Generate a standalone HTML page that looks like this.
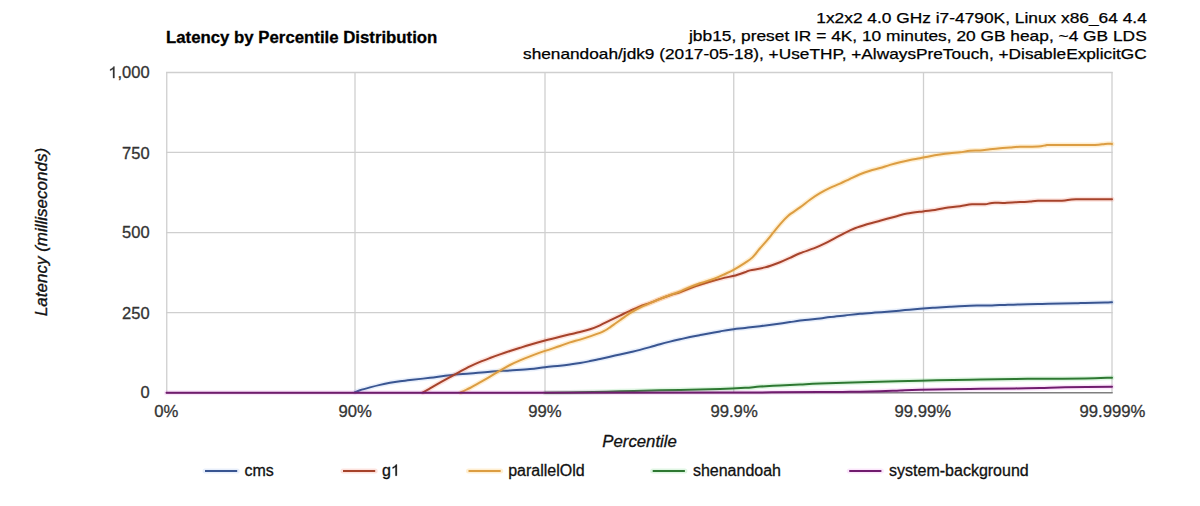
<!DOCTYPE html>
<html><head><meta charset="utf-8"><style>
html,body{margin:0;padding:0;background:#fff;}
body{width:1200px;height:506px;overflow:hidden;}
svg{display:block;font-family:"Liberation Sans",sans-serif;}
</style></head><body>
<svg width="1200" height="506" viewBox="0 0 1200 506">
<rect width="1200" height="506" fill="#fff"/>
<text x="166" y="42.8" font-size="16.8" font-weight="bold" fill="#000" stroke="#000" stroke-width="0.3">Latency by Percentile Distribution</text>
<g font-size="14.8" fill="#000" stroke="#000" stroke-width="0.25">
<text x="816.3" y="22.5" textLength="330.5" lengthAdjust="spacingAndGlyphs">1x2x2 4.0 GHz i7-4790K, Linux x86_64 4.4</text>
<text x="689" y="40.5" textLength="457.7" lengthAdjust="spacingAndGlyphs">jbb15, preset IR = 4K, 10 minutes, 20 GB heap, ~4 GB LDS</text>
<text x="523" y="58.5" textLength="623.7" lengthAdjust="spacingAndGlyphs">shenandoah/jdk9 (2017-05-18), +UseTHP, +AlwaysPreTouch, +DisableExplicitGC</text>
</g>
<line x1="166" y1="72.5" x2="1112.7" y2="72.5" stroke="#cfcfcf" stroke-width="1.3"/><line x1="166" y1="152.4" x2="1112.7" y2="152.4" stroke="#cfcfcf" stroke-width="1.3"/><line x1="166" y1="232.65" x2="1112.7" y2="232.65" stroke="#cfcfcf" stroke-width="1.3"/><line x1="166" y1="312.65" x2="1112.7" y2="312.65" stroke="#cfcfcf" stroke-width="1.3"/><line x1="166.75" y1="71.9" x2="166.75" y2="393" stroke="#cfcfcf" stroke-width="1.3"/><line x1="355.00" y1="71.9" x2="355.00" y2="393" stroke="#cfcfcf" stroke-width="1.3"/><line x1="545.00" y1="71.9" x2="545.00" y2="393" stroke="#cfcfcf" stroke-width="1.3"/><line x1="733.75" y1="71.9" x2="733.75" y2="393" stroke="#cfcfcf" stroke-width="1.3"/><line x1="923.50" y1="71.9" x2="923.50" y2="393" stroke="#cfcfcf" stroke-width="1.3"/><line x1="1112.00" y1="71.9" x2="1112.00" y2="393" stroke="#cfcfcf" stroke-width="1.3"/><line x1="166" y1="392.8" x2="1112.7" y2="392.8" stroke="#7f7f7f" stroke-width="1.4"/>
<g font-size="16.5" fill="#333" stroke="#333" stroke-width="0.3"><text x="149.6" y="78.1" text-anchor="end">,000</text><text x="149.6" y="158.5" text-anchor="end">750</text><text x="149.6" y="238.3" text-anchor="end">500</text><text x="149.6" y="319.0" text-anchor="end">250</text><text x="149.6" y="398.2" text-anchor="end">0</text><path d="M113.01,78.10 L114.46,78.10 L114.46,66.58 L113.51,66.58 L113.22,67.14 L112.66,67.77 L111.69,68.51 L110.11,69.33 L110.11,70.70 L110.97,70.35 L112.02,69.76 L113.01,69.10Z" fill="#333" stroke="#333" stroke-width="0.3"/><text x="166.3" y="416.5" text-anchor="middle" font-size="16.7">0%</text><text x="355.1" y="416.5" text-anchor="middle" font-size="16.7">90%</text><text x="544.9" y="416.5" text-anchor="middle" font-size="16.7">99%</text><text x="734.1" y="416.5" text-anchor="middle" font-size="16.7">99.9%</text><text x="922.8" y="416.5" text-anchor="middle" font-size="16.7">99.99%</text><text x="1112.5" y="416.5" text-anchor="middle" font-size="16.7">99.999%</text></g>
<path d="M355.00,392.20 L355.00,392.20 C355.83,391.87 357.50,391.00 360.00,390.20 C362.50,389.40 366.67,388.28 370.00,387.40 C373.33,386.52 376.67,385.67 380.00,384.90 C383.33,384.13 386.67,383.42 390.00,382.80 C393.33,382.18 396.67,381.65 400.00,381.20 C403.33,380.75 405.00,380.67 410.00,380.10 C415.00,379.53 423.33,378.62 430.00,377.80 C436.67,376.98 443.33,375.92 450.00,375.20 C456.67,374.48 463.33,374.08 470.00,373.50 C476.67,372.92 483.33,372.22 490.00,371.70 C496.67,371.18 503.33,370.83 510.00,370.40 C516.67,369.97 524.17,369.63 530.00,369.10 C535.83,368.57 540.00,367.76 545.00,367.20 C550.00,366.64 555.83,366.20 560.00,365.75 C564.17,365.30 566.67,364.97 570.00,364.53 C573.33,364.08 576.67,363.65 580.00,363.08 C583.33,362.50 586.67,361.79 590.00,361.10 C593.33,360.41 596.67,359.65 600.00,358.93 C603.33,358.20 606.67,357.47 610.00,356.73 C613.33,355.98 616.67,355.22 620.00,354.47 C623.33,353.72 626.67,353.00 630.00,352.23 C633.33,351.45 636.67,350.70 640.00,349.85 C643.33,349.00 646.67,348.06 650.00,347.12 C653.33,346.19 656.67,345.15 660.00,344.23 C663.33,343.30 666.67,342.43 670.00,341.60 C673.33,340.78 676.67,340.02 680.00,339.27 C683.33,338.52 686.67,337.80 690.00,337.10 C693.33,336.40 696.67,335.75 700.00,335.10 C703.33,334.45 706.67,333.84 710.00,333.23 C713.33,332.61 716.67,332.00 720.00,331.40 C723.33,330.80 725.83,330.23 730.00,329.65 C734.17,329.07 740.00,328.52 745.00,327.94 C750.00,327.35 755.00,326.77 760.00,326.15 C765.00,325.52 770.00,324.86 775.00,324.19 C780.00,323.51 785.00,322.78 790.00,322.10 C795.00,321.42 800.00,320.71 805.00,320.10 C810.00,319.49 815.83,318.95 820.00,318.43 C824.17,317.90 825.83,317.48 830.00,316.98 C834.17,316.47 840.00,315.93 845.00,315.41 C850.00,314.89 855.00,314.32 860.00,313.85 C865.00,313.38 870.00,313.01 875.00,312.61 C880.00,312.22 885.00,311.89 890.00,311.48 C895.00,311.06 900.00,310.56 905.00,310.11 C910.00,309.67 915.00,309.20 920.00,308.80 C925.00,308.40 930.00,308.06 935.00,307.71 C940.00,307.36 945.00,307.01 950.00,306.70 C955.00,306.39 960.00,306.07 965.00,305.88 C970.00,305.68 975.50,305.63 980.00,305.55 C984.50,305.47 987.83,305.51 992.00,305.40 C996.17,305.29 1000.33,305.06 1005.00,304.89 C1009.67,304.72 1014.50,304.52 1020.00,304.39 C1025.50,304.25 1033.33,304.18 1038.00,304.06 C1042.67,303.95 1041.83,303.83 1048.00,303.71 C1054.17,303.59 1068.83,303.48 1075.00,303.35 C1081.17,303.22 1080.00,303.05 1085.00,302.93 C1090.00,302.80 1100.50,302.70 1105.00,302.60 C1109.50,302.50 1110.83,302.35 1112.00,302.30" fill="none" stroke="#5080e0" stroke-opacity="0.13" stroke-width="5" stroke-linejoin="round" stroke-linecap="round"/><path d="M355.00,392.20 L355.00,392.20 C355.83,391.87 357.50,391.00 360.00,390.20 C362.50,389.40 366.67,388.28 370.00,387.40 C373.33,386.52 376.67,385.67 380.00,384.90 C383.33,384.13 386.67,383.42 390.00,382.80 C393.33,382.18 396.67,381.65 400.00,381.20 C403.33,380.75 405.00,380.67 410.00,380.10 C415.00,379.53 423.33,378.62 430.00,377.80 C436.67,376.98 443.33,375.92 450.00,375.20 C456.67,374.48 463.33,374.08 470.00,373.50 C476.67,372.92 483.33,372.22 490.00,371.70 C496.67,371.18 503.33,370.83 510.00,370.40 C516.67,369.97 524.17,369.63 530.00,369.10 C535.83,368.57 540.00,367.76 545.00,367.20 C550.00,366.64 555.83,366.20 560.00,365.75 C564.17,365.30 566.67,364.97 570.00,364.53 C573.33,364.08 576.67,363.65 580.00,363.08 C583.33,362.50 586.67,361.79 590.00,361.10 C593.33,360.41 596.67,359.65 600.00,358.93 C603.33,358.20 606.67,357.47 610.00,356.73 C613.33,355.98 616.67,355.22 620.00,354.47 C623.33,353.72 626.67,353.00 630.00,352.23 C633.33,351.45 636.67,350.70 640.00,349.85 C643.33,349.00 646.67,348.06 650.00,347.12 C653.33,346.19 656.67,345.15 660.00,344.23 C663.33,343.30 666.67,342.43 670.00,341.60 C673.33,340.78 676.67,340.02 680.00,339.27 C683.33,338.52 686.67,337.80 690.00,337.10 C693.33,336.40 696.67,335.75 700.00,335.10 C703.33,334.45 706.67,333.84 710.00,333.23 C713.33,332.61 716.67,332.00 720.00,331.40 C723.33,330.80 725.83,330.23 730.00,329.65 C734.17,329.07 740.00,328.52 745.00,327.94 C750.00,327.35 755.00,326.77 760.00,326.15 C765.00,325.52 770.00,324.86 775.00,324.19 C780.00,323.51 785.00,322.78 790.00,322.10 C795.00,321.42 800.00,320.71 805.00,320.10 C810.00,319.49 815.83,318.95 820.00,318.43 C824.17,317.90 825.83,317.48 830.00,316.98 C834.17,316.47 840.00,315.93 845.00,315.41 C850.00,314.89 855.00,314.32 860.00,313.85 C865.00,313.38 870.00,313.01 875.00,312.61 C880.00,312.22 885.00,311.89 890.00,311.48 C895.00,311.06 900.00,310.56 905.00,310.11 C910.00,309.67 915.00,309.20 920.00,308.80 C925.00,308.40 930.00,308.06 935.00,307.71 C940.00,307.36 945.00,307.01 950.00,306.70 C955.00,306.39 960.00,306.07 965.00,305.88 C970.00,305.68 975.50,305.63 980.00,305.55 C984.50,305.47 987.83,305.51 992.00,305.40 C996.17,305.29 1000.33,305.06 1005.00,304.89 C1009.67,304.72 1014.50,304.52 1020.00,304.39 C1025.50,304.25 1033.33,304.18 1038.00,304.06 C1042.67,303.95 1041.83,303.83 1048.00,303.71 C1054.17,303.59 1068.83,303.48 1075.00,303.35 C1081.17,303.22 1080.00,303.05 1085.00,302.93 C1090.00,302.80 1100.50,302.70 1105.00,302.60 C1109.50,302.50 1110.83,302.35 1112.00,302.30" fill="none" stroke="#395591" stroke-width="2" stroke-linejoin="round" stroke-linecap="round"/><path d="M423.00,392.40 L423.00,392.40 C424.17,391.73 427.17,390.02 430.00,388.40 C432.83,386.78 436.67,384.58 440.00,382.70 C443.33,380.82 446.67,378.95 450.00,377.10 C453.33,375.25 456.67,373.38 460.00,371.60 C463.33,369.82 466.67,368.02 470.00,366.40 C473.33,364.78 476.67,363.30 480.00,361.90 C483.33,360.50 486.67,359.25 490.00,358.00 C493.33,356.75 496.67,355.57 500.00,354.40 C503.33,353.23 506.67,352.10 510.00,351.00 C513.33,349.90 516.67,348.85 520.00,347.80 C523.33,346.75 525.83,345.92 530.00,344.70 C534.17,343.48 540.00,341.83 545.00,340.50 C550.00,339.17 555.83,337.73 560.00,336.70 C564.17,335.67 566.67,335.08 570.00,334.30 C573.33,333.52 576.67,332.83 580.00,332.00 C583.33,331.17 586.67,330.42 590.00,329.30 C593.33,328.18 596.67,326.78 600.00,325.30 C603.33,323.82 606.67,322.02 610.00,320.40 C613.33,318.78 616.67,317.20 620.00,315.60 C623.33,314.00 626.67,312.33 630.00,310.80 C633.33,309.27 636.67,307.72 640.00,306.40 C643.33,305.08 646.67,304.15 650.00,302.90 C653.33,301.65 656.67,300.17 660.00,298.90 C663.33,297.63 666.67,296.42 670.00,295.30 C673.33,294.18 676.67,293.38 680.00,292.20 C683.33,291.02 686.67,289.45 690.00,288.20 C693.33,286.95 695.83,286.03 700.00,284.70 C704.17,283.37 710.83,281.38 715.00,280.20 C719.17,279.02 721.83,278.33 725.00,277.60 C728.17,276.87 730.67,276.70 734.00,275.80 C737.33,274.90 742.33,273.10 745.00,272.20 C747.67,271.30 746.67,271.20 750.00,270.40 C753.33,269.60 760.00,268.77 765.00,267.40 C770.00,266.03 775.83,263.80 780.00,262.20 C784.17,260.60 786.67,259.28 790.00,257.80 C793.33,256.32 795.83,254.95 800.00,253.30 C804.17,251.65 810.83,249.55 815.00,247.90 C819.17,246.25 821.67,245.03 825.00,243.40 C828.33,241.77 831.67,239.87 835.00,238.10 C838.33,236.33 841.67,234.43 845.00,232.80 C848.33,231.17 851.33,229.72 855.00,228.30 C858.67,226.88 862.83,225.57 867.00,224.30 C871.17,223.03 875.33,221.97 880.00,220.70 C884.67,219.43 890.50,217.88 895.00,216.70 C899.50,215.52 902.33,214.48 907.00,213.60 C911.67,212.72 918.33,212.00 923.00,211.40 C927.67,210.80 931.33,210.58 935.00,210.00 C938.67,209.42 940.83,208.53 945.00,207.90 C949.17,207.28 955.50,206.85 960.00,206.25 C964.50,205.65 967.83,204.62 972.00,204.30 C976.17,203.98 981.67,204.53 985.00,204.30 C988.33,204.07 988.67,203.13 992.00,202.90 C995.33,202.67 1000.33,203.03 1005.00,202.90 C1009.67,202.77 1015.83,202.32 1020.00,202.10 C1024.17,201.88 1027.00,201.83 1030.00,201.60 C1033.00,201.37 1032.67,200.85 1038.00,200.70 C1043.33,200.55 1055.67,200.93 1062.00,200.70 C1068.33,200.47 1067.67,199.53 1076.00,199.30 C1084.33,199.07 1106.00,199.30 1112.00,199.30" fill="none" stroke="#f05030" stroke-opacity="0.16" stroke-width="5" stroke-linejoin="round" stroke-linecap="round"/><path d="M423.00,392.40 L423.00,392.40 C424.17,391.73 427.17,390.02 430.00,388.40 C432.83,386.78 436.67,384.58 440.00,382.70 C443.33,380.82 446.67,378.95 450.00,377.10 C453.33,375.25 456.67,373.38 460.00,371.60 C463.33,369.82 466.67,368.02 470.00,366.40 C473.33,364.78 476.67,363.30 480.00,361.90 C483.33,360.50 486.67,359.25 490.00,358.00 C493.33,356.75 496.67,355.57 500.00,354.40 C503.33,353.23 506.67,352.10 510.00,351.00 C513.33,349.90 516.67,348.85 520.00,347.80 C523.33,346.75 525.83,345.92 530.00,344.70 C534.17,343.48 540.00,341.83 545.00,340.50 C550.00,339.17 555.83,337.73 560.00,336.70 C564.17,335.67 566.67,335.08 570.00,334.30 C573.33,333.52 576.67,332.83 580.00,332.00 C583.33,331.17 586.67,330.42 590.00,329.30 C593.33,328.18 596.67,326.78 600.00,325.30 C603.33,323.82 606.67,322.02 610.00,320.40 C613.33,318.78 616.67,317.20 620.00,315.60 C623.33,314.00 626.67,312.33 630.00,310.80 C633.33,309.27 636.67,307.72 640.00,306.40 C643.33,305.08 646.67,304.15 650.00,302.90 C653.33,301.65 656.67,300.17 660.00,298.90 C663.33,297.63 666.67,296.42 670.00,295.30 C673.33,294.18 676.67,293.38 680.00,292.20 C683.33,291.02 686.67,289.45 690.00,288.20 C693.33,286.95 695.83,286.03 700.00,284.70 C704.17,283.37 710.83,281.38 715.00,280.20 C719.17,279.02 721.83,278.33 725.00,277.60 C728.17,276.87 730.67,276.70 734.00,275.80 C737.33,274.90 742.33,273.10 745.00,272.20 C747.67,271.30 746.67,271.20 750.00,270.40 C753.33,269.60 760.00,268.77 765.00,267.40 C770.00,266.03 775.83,263.80 780.00,262.20 C784.17,260.60 786.67,259.28 790.00,257.80 C793.33,256.32 795.83,254.95 800.00,253.30 C804.17,251.65 810.83,249.55 815.00,247.90 C819.17,246.25 821.67,245.03 825.00,243.40 C828.33,241.77 831.67,239.87 835.00,238.10 C838.33,236.33 841.67,234.43 845.00,232.80 C848.33,231.17 851.33,229.72 855.00,228.30 C858.67,226.88 862.83,225.57 867.00,224.30 C871.17,223.03 875.33,221.97 880.00,220.70 C884.67,219.43 890.50,217.88 895.00,216.70 C899.50,215.52 902.33,214.48 907.00,213.60 C911.67,212.72 918.33,212.00 923.00,211.40 C927.67,210.80 931.33,210.58 935.00,210.00 C938.67,209.42 940.83,208.53 945.00,207.90 C949.17,207.28 955.50,206.85 960.00,206.25 C964.50,205.65 967.83,204.62 972.00,204.30 C976.17,203.98 981.67,204.53 985.00,204.30 C988.33,204.07 988.67,203.13 992.00,202.90 C995.33,202.67 1000.33,203.03 1005.00,202.90 C1009.67,202.77 1015.83,202.32 1020.00,202.10 C1024.17,201.88 1027.00,201.83 1030.00,201.60 C1033.00,201.37 1032.67,200.85 1038.00,200.70 C1043.33,200.55 1055.67,200.93 1062.00,200.70 C1068.33,200.47 1067.67,199.53 1076.00,199.30 C1084.33,199.07 1106.00,199.30 1112.00,199.30" fill="none" stroke="#a6432b" stroke-width="2" stroke-linejoin="round" stroke-linecap="round"/><path d="M460.70,392.40 L460.70,392.40 C461.42,392.05 463.45,391.03 465.00,390.30 C466.55,389.57 467.50,389.32 470.00,388.00 C472.50,386.68 476.67,384.30 480.00,382.40 C483.33,380.50 486.67,378.55 490.00,376.60 C493.33,374.65 496.67,372.63 500.00,370.70 C503.33,368.77 506.67,366.72 510.00,365.00 C513.33,363.28 516.67,361.83 520.00,360.40 C523.33,358.97 525.83,357.98 530.00,356.40 C534.17,354.82 540.00,352.63 545.00,350.90 C550.00,349.17 555.83,347.42 560.00,346.00 C564.17,344.58 566.67,343.47 570.00,342.40 C573.33,341.33 576.67,340.60 580.00,339.60 C583.33,338.60 586.67,337.52 590.00,336.40 C593.33,335.28 597.50,333.88 600.00,332.90 C602.50,331.92 603.33,331.43 605.00,330.50 C606.67,329.57 608.33,328.42 610.00,327.30 C611.67,326.18 613.33,324.98 615.00,323.80 C616.67,322.62 618.33,321.40 620.00,320.20 C621.67,319.00 623.33,317.77 625.00,316.60 C626.67,315.43 627.50,314.70 630.00,313.20 C632.50,311.70 636.67,309.27 640.00,307.60 C643.33,305.93 646.67,304.63 650.00,303.20 C653.33,301.77 656.67,300.37 660.00,299.00 C663.33,297.63 666.67,296.25 670.00,295.00 C673.33,293.75 677.50,292.48 680.00,291.50 C682.50,290.52 681.67,290.47 685.00,289.10 C688.33,287.73 695.00,285.08 700.00,283.30 C705.00,281.52 710.83,279.95 715.00,278.40 C719.17,276.85 721.83,275.47 725.00,274.00 C728.17,272.53 730.67,271.45 734.00,269.60 C737.33,267.75 741.92,264.93 745.00,262.90 C748.08,260.87 750.10,259.72 752.50,257.40 C754.90,255.08 757.02,251.80 759.40,249.00 C761.78,246.20 764.50,243.32 766.80,240.60 C769.10,237.88 771.07,235.33 773.20,232.70 C775.33,230.07 777.13,227.60 779.60,224.80 C782.07,222.00 784.60,218.80 788.00,215.90 C791.40,213.00 796.33,210.10 800.00,207.40 C803.67,204.70 806.67,202.07 810.00,199.70 C813.33,197.33 816.67,195.17 820.00,193.20 C823.33,191.23 826.67,189.48 830.00,187.90 C833.33,186.32 836.67,185.22 840.00,183.70 C843.33,182.18 846.67,180.38 850.00,178.80 C853.33,177.22 856.67,175.55 860.00,174.20 C863.33,172.85 866.67,171.73 870.00,170.70 C873.33,169.67 876.67,168.97 880.00,168.00 C883.33,167.03 886.67,165.87 890.00,164.90 C893.33,163.93 896.67,163.02 900.00,162.20 C903.33,161.38 906.67,160.67 910.00,160.00 C913.33,159.33 916.67,158.83 920.00,158.20 C923.33,157.57 926.67,156.80 930.00,156.20 C933.33,155.60 936.67,155.08 940.00,154.60 C943.33,154.12 946.67,153.68 950.00,153.30 C953.33,152.92 956.67,152.72 960.00,152.30 C963.33,151.88 966.67,151.12 970.00,150.80 C973.33,150.48 976.67,150.65 980.00,150.40 C983.33,150.15 986.67,149.65 990.00,149.30 C993.33,148.95 996.67,148.60 1000.00,148.30 C1003.33,148.00 1006.67,147.77 1010.00,147.50 C1013.33,147.23 1015.33,146.85 1020.00,146.70 C1024.67,146.55 1033.67,146.85 1038.00,146.60 C1042.33,146.35 1044.00,145.48 1046.00,145.20 C1048.00,144.92 1046.00,144.95 1050.00,144.90 C1054.00,144.85 1062.50,144.88 1070.00,144.90 C1077.50,144.92 1089.17,145.17 1095.00,145.00 C1100.83,144.83 1102.17,144.08 1105.00,143.90 C1107.83,143.72 1110.83,143.90 1112.00,143.90" fill="none" stroke="#ffb020" stroke-opacity="0.2" stroke-width="5" stroke-linejoin="round" stroke-linecap="round"/><path d="M460.70,392.40 L460.70,392.40 C461.42,392.05 463.45,391.03 465.00,390.30 C466.55,389.57 467.50,389.32 470.00,388.00 C472.50,386.68 476.67,384.30 480.00,382.40 C483.33,380.50 486.67,378.55 490.00,376.60 C493.33,374.65 496.67,372.63 500.00,370.70 C503.33,368.77 506.67,366.72 510.00,365.00 C513.33,363.28 516.67,361.83 520.00,360.40 C523.33,358.97 525.83,357.98 530.00,356.40 C534.17,354.82 540.00,352.63 545.00,350.90 C550.00,349.17 555.83,347.42 560.00,346.00 C564.17,344.58 566.67,343.47 570.00,342.40 C573.33,341.33 576.67,340.60 580.00,339.60 C583.33,338.60 586.67,337.52 590.00,336.40 C593.33,335.28 597.50,333.88 600.00,332.90 C602.50,331.92 603.33,331.43 605.00,330.50 C606.67,329.57 608.33,328.42 610.00,327.30 C611.67,326.18 613.33,324.98 615.00,323.80 C616.67,322.62 618.33,321.40 620.00,320.20 C621.67,319.00 623.33,317.77 625.00,316.60 C626.67,315.43 627.50,314.70 630.00,313.20 C632.50,311.70 636.67,309.27 640.00,307.60 C643.33,305.93 646.67,304.63 650.00,303.20 C653.33,301.77 656.67,300.37 660.00,299.00 C663.33,297.63 666.67,296.25 670.00,295.00 C673.33,293.75 677.50,292.48 680.00,291.50 C682.50,290.52 681.67,290.47 685.00,289.10 C688.33,287.73 695.00,285.08 700.00,283.30 C705.00,281.52 710.83,279.95 715.00,278.40 C719.17,276.85 721.83,275.47 725.00,274.00 C728.17,272.53 730.67,271.45 734.00,269.60 C737.33,267.75 741.92,264.93 745.00,262.90 C748.08,260.87 750.10,259.72 752.50,257.40 C754.90,255.08 757.02,251.80 759.40,249.00 C761.78,246.20 764.50,243.32 766.80,240.60 C769.10,237.88 771.07,235.33 773.20,232.70 C775.33,230.07 777.13,227.60 779.60,224.80 C782.07,222.00 784.60,218.80 788.00,215.90 C791.40,213.00 796.33,210.10 800.00,207.40 C803.67,204.70 806.67,202.07 810.00,199.70 C813.33,197.33 816.67,195.17 820.00,193.20 C823.33,191.23 826.67,189.48 830.00,187.90 C833.33,186.32 836.67,185.22 840.00,183.70 C843.33,182.18 846.67,180.38 850.00,178.80 C853.33,177.22 856.67,175.55 860.00,174.20 C863.33,172.85 866.67,171.73 870.00,170.70 C873.33,169.67 876.67,168.97 880.00,168.00 C883.33,167.03 886.67,165.87 890.00,164.90 C893.33,163.93 896.67,163.02 900.00,162.20 C903.33,161.38 906.67,160.67 910.00,160.00 C913.33,159.33 916.67,158.83 920.00,158.20 C923.33,157.57 926.67,156.80 930.00,156.20 C933.33,155.60 936.67,155.08 940.00,154.60 C943.33,154.12 946.67,153.68 950.00,153.30 C953.33,152.92 956.67,152.72 960.00,152.30 C963.33,151.88 966.67,151.12 970.00,150.80 C973.33,150.48 976.67,150.65 980.00,150.40 C983.33,150.15 986.67,149.65 990.00,149.30 C993.33,148.95 996.67,148.60 1000.00,148.30 C1003.33,148.00 1006.67,147.77 1010.00,147.50 C1013.33,147.23 1015.33,146.85 1020.00,146.70 C1024.67,146.55 1033.67,146.85 1038.00,146.60 C1042.33,146.35 1044.00,145.48 1046.00,145.20 C1048.00,144.92 1046.00,144.95 1050.00,144.90 C1054.00,144.85 1062.50,144.88 1070.00,144.90 C1077.50,144.92 1089.17,145.17 1095.00,145.00 C1100.83,144.83 1102.17,144.08 1105.00,143.90 C1107.83,143.72 1110.83,143.90 1112.00,143.90" fill="none" stroke="#dc9d42" stroke-width="2" stroke-linejoin="round" stroke-linecap="round"/><path d="M545.00,392.80 L545.00,392.80 C550.83,392.72 567.50,392.55 580.00,392.30 C592.50,392.05 606.67,391.63 620.00,391.30 C633.33,390.97 648.33,390.56 660.00,390.30 C671.67,390.04 680.00,389.97 690.00,389.75 C700.00,389.53 710.83,389.32 720.00,389.00 C729.17,388.68 738.33,388.20 745.00,387.80 C751.67,387.40 754.17,386.98 760.00,386.60 C765.83,386.22 773.33,385.85 780.00,385.50 C786.67,385.15 793.33,384.85 800.00,384.50 C806.67,384.15 808.33,383.83 820.00,383.40 C831.67,382.97 853.33,382.35 870.00,381.90 C886.67,381.45 903.33,381.07 920.00,380.70 C936.67,380.33 954.17,379.98 970.00,379.70 C985.83,379.42 1003.33,379.17 1015.00,379.00 C1026.67,378.83 1028.33,378.78 1040.00,378.70 C1051.67,378.62 1073.00,378.67 1085.00,378.50 C1097.00,378.33 1107.50,377.83 1112.00,377.70" fill="none" stroke="#30c040" stroke-opacity="0.15" stroke-width="5" stroke-linejoin="round" stroke-linecap="round"/><path d="M545.00,392.80 L545.00,392.80 C550.83,392.72 567.50,392.55 580.00,392.30 C592.50,392.05 606.67,391.63 620.00,391.30 C633.33,390.97 648.33,390.56 660.00,390.30 C671.67,390.04 680.00,389.97 690.00,389.75 C700.00,389.53 710.83,389.32 720.00,389.00 C729.17,388.68 738.33,388.20 745.00,387.80 C751.67,387.40 754.17,386.98 760.00,386.60 C765.83,386.22 773.33,385.85 780.00,385.50 C786.67,385.15 793.33,384.85 800.00,384.50 C806.67,384.15 808.33,383.83 820.00,383.40 C831.67,382.97 853.33,382.35 870.00,381.90 C886.67,381.45 903.33,381.07 920.00,380.70 C936.67,380.33 954.17,379.98 970.00,379.70 C985.83,379.42 1003.33,379.17 1015.00,379.00 C1026.67,378.83 1028.33,378.78 1040.00,378.70 C1051.67,378.62 1073.00,378.67 1085.00,378.50 C1097.00,378.33 1107.50,377.83 1112.00,377.70" fill="none" stroke="#2e7832" stroke-width="2" stroke-linejoin="round" stroke-linecap="round"/><path d="M166.50,392.85 L720.00,392.60 C736.67,392.52 798.33,392.23 820.00,392.10 C841.67,391.97 840.00,391.94 850.00,391.80 C860.00,391.66 871.67,391.48 880.00,391.25 C888.33,391.02 893.33,390.66 900.00,390.40 C906.67,390.14 908.33,389.93 920.00,389.70 C931.67,389.47 954.17,389.22 970.00,389.00 C985.83,388.78 1003.33,388.55 1015.00,388.40 C1026.67,388.25 1031.67,388.29 1040.00,388.10 C1048.33,387.91 1053.00,387.47 1065.00,387.25 C1077.00,387.03 1104.17,386.88 1112.00,386.80" fill="none" stroke="#e040e0" stroke-opacity="0.13" stroke-width="5" stroke-linejoin="round" stroke-linecap="round"/><path d="M166.50,392.85 L720.00,392.60 C736.67,392.52 798.33,392.23 820.00,392.10 C841.67,391.97 840.00,391.94 850.00,391.80 C860.00,391.66 871.67,391.48 880.00,391.25 C888.33,391.02 893.33,390.66 900.00,390.40 C906.67,390.14 908.33,389.93 920.00,389.70 C931.67,389.47 954.17,389.22 970.00,389.00 C985.83,388.78 1003.33,388.55 1015.00,388.40 C1026.67,388.25 1031.67,388.29 1040.00,388.10 C1048.33,387.91 1053.00,387.47 1065.00,387.25 C1077.00,387.03 1104.17,386.88 1112.00,386.80" fill="none" stroke="#701c6e" stroke-width="2" stroke-linejoin="round" stroke-linecap="round"/>
<text x="639.6" y="446.7" font-size="16.8" font-style="italic" fill="#111" stroke="#111" stroke-width="0.3" text-anchor="middle">Percentile</text>
<text transform="translate(47.2,232) rotate(-90)" font-size="17" font-style="italic" fill="#111" stroke="#111" stroke-width="0.35" text-anchor="middle">Latency (milliseconds)</text>
<g font-size="16" fill="#111" stroke="#111" stroke-width="0.3"><line x1="205" y1="471" x2="237.2" y2="471" stroke="#5080e0" stroke-opacity="0.13" stroke-width="5" stroke-linecap="round"/><line x1="205" y1="471" x2="237.2" y2="471" stroke="#395591" stroke-width="2"/><text x="244.5" y="475.7">cms</text><line x1="343" y1="471" x2="375.2" y2="471" stroke="#f05030" stroke-opacity="0.16" stroke-width="5" stroke-linecap="round"/><line x1="343" y1="471" x2="375.2" y2="471" stroke="#a6432b" stroke-width="2"/><text x="382" y="475.7">g</text><path d="M395.45,475.70 L396.86,475.70 L396.86,464.53 L395.95,464.53 L395.66,465.07 L395.12,465.68 L394.18,466.40 L392.64,467.20 L392.64,468.53 L393.48,468.18 L394.49,467.61 L395.45,466.97Z" fill="#111" stroke="#111" stroke-width="0.3"/><line x1="468.5" y1="471" x2="500.7" y2="471" stroke="#ffb020" stroke-opacity="0.2" stroke-width="5" stroke-linecap="round"/><line x1="468.5" y1="471" x2="500.7" y2="471" stroke="#dc9d42" stroke-width="2"/><text x="508.2" y="475.7">parallelOld</text><line x1="652.7" y1="471" x2="684.9000000000001" y2="471" stroke="#30c040" stroke-opacity="0.15" stroke-width="5" stroke-linecap="round"/><line x1="652.7" y1="471" x2="684.9000000000001" y2="471" stroke="#2e7832" stroke-width="2"/><text x="692.9" y="475.7">shenandoah</text><line x1="849.2" y1="471" x2="881.4000000000001" y2="471" stroke="#e040e0" stroke-opacity="0.13" stroke-width="5" stroke-linecap="round"/><line x1="849.2" y1="471" x2="881.4000000000001" y2="471" stroke="#701c6e" stroke-width="2"/><text x="889.1" y="475.7">system-background</text></g>
</svg>
</body></html>
